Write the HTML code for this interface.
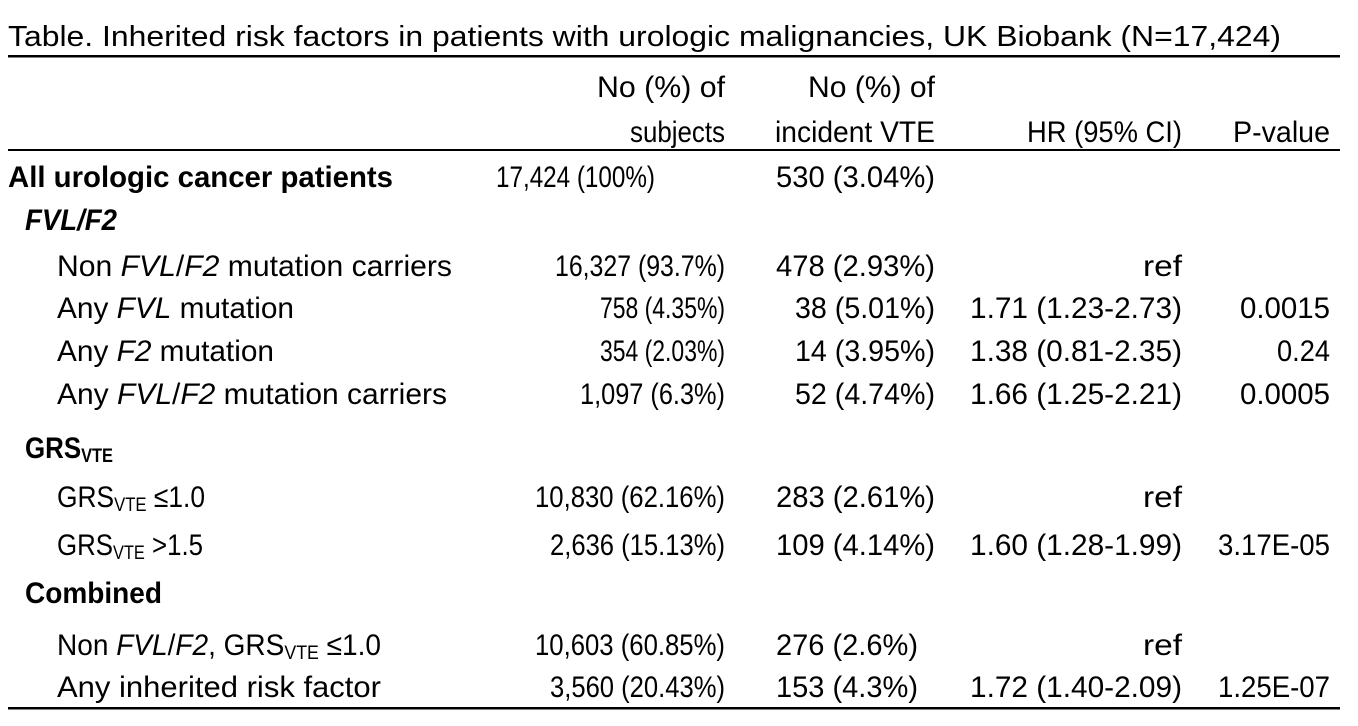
<!DOCTYPE html>
<html><head><meta charset="utf-8"><style>
html,body{margin:0;padding:0;background:#fff;}
svg{display:block;}
text{font-family:"Liberation Sans",sans-serif;font-size:30px;fill:#000;}
.t{font-size:29px;}
.b{font-weight:bold;}
.i{font-style:italic;}
</style></head><body>
<svg width="1358" height="726" viewBox="0 0 1358 726">
<text class="t" x="8" y="46" textLength="1273" lengthAdjust="spacingAndGlyphs">Table. Inherited risk factors in patients with urologic malignancies, UK Biobank (N=17,424)</text>
<rect x="8" y="55" width="1332" height="2.5"/>
<text x="725" y="97" text-anchor="end" textLength="128" lengthAdjust="spacingAndGlyphs">No (%) of</text>
<text x="725" y="142" text-anchor="end" textLength="95" lengthAdjust="spacingAndGlyphs">subjects</text>
<text x="935" y="97" text-anchor="end" textLength="127" lengthAdjust="spacingAndGlyphs">No (%) of</text>
<text x="935" y="142" text-anchor="end" textLength="160" lengthAdjust="spacingAndGlyphs">incident VTE</text>
<text x="1182" y="142" text-anchor="end" textLength="155" lengthAdjust="spacingAndGlyphs">HR (95% CI)</text>
<text x="1330" y="142" text-anchor="end" textLength="97" lengthAdjust="spacingAndGlyphs">P-value</text>
<rect x="8" y="149" width="1332" height="2"/>

<text class="b" x="8" y="187" textLength="385" lengthAdjust="spacingAndGlyphs">All urologic cancer patients</text>
<text x="496" y="187" textLength="159" lengthAdjust="spacingAndGlyphs">17,424 (100%)</text>
<text x="776" y="187" textLength="159" lengthAdjust="spacingAndGlyphs">530 (3.04%)</text>

<text class="b i" x="25" y="230" textLength="92" lengthAdjust="spacingAndGlyphs">FVL/F2</text>

<text x="57" y="276" textLength="395" lengthAdjust="spacingAndGlyphs">Non <tspan class="i">FVL</tspan>/<tspan class="i">F2</tspan> mutation carriers</text>
<text x="725" y="276" text-anchor="end" textLength="170" lengthAdjust="spacingAndGlyphs">16,327 (93.7%)</text>
<text x="935" y="276" text-anchor="end" textLength="159" lengthAdjust="spacingAndGlyphs">478 (2.93%)</text>
<text x="1182" y="276" text-anchor="end" textLength="39" lengthAdjust="spacingAndGlyphs">ref</text>

<text x="57" y="318" textLength="237" lengthAdjust="spacingAndGlyphs">Any <tspan class="i">FVL</tspan> mutation</text>
<text x="725" y="318" text-anchor="end" textLength="125" lengthAdjust="spacingAndGlyphs">758 (4.35%)</text>
<text x="935" y="318" text-anchor="end" textLength="140" lengthAdjust="spacingAndGlyphs">38 (5.01%)</text>
<text x="1182" y="318" text-anchor="end" textLength="212" lengthAdjust="spacingAndGlyphs">1.71 (1.23-2.73)</text>
<text x="1330" y="318" text-anchor="end" textLength="90" lengthAdjust="spacingAndGlyphs">0.0015</text>

<text x="57" y="361" textLength="217" lengthAdjust="spacingAndGlyphs">Any <tspan class="i">F2</tspan> mutation</text>
<text x="725" y="361" text-anchor="end" textLength="125" lengthAdjust="spacingAndGlyphs">354 (2.03%)</text>
<text x="935" y="361" text-anchor="end" textLength="140" lengthAdjust="spacingAndGlyphs">14 (3.95%)</text>
<text x="1182" y="361" text-anchor="end" textLength="212" lengthAdjust="spacingAndGlyphs">1.38 (0.81-2.35)</text>
<text x="1330" y="361" text-anchor="end" textLength="53" lengthAdjust="spacingAndGlyphs">0.24</text>

<text x="57" y="404" textLength="390" lengthAdjust="spacingAndGlyphs">Any <tspan class="i">FVL</tspan>/<tspan class="i">F2</tspan> mutation carriers</text>
<text x="725" y="404" text-anchor="end" textLength="145" lengthAdjust="spacingAndGlyphs">1,097 (6.3%)</text>
<text x="935" y="404" text-anchor="end" textLength="140" lengthAdjust="spacingAndGlyphs">52 (4.74%)</text>
<text x="1182" y="404" text-anchor="end" textLength="212" lengthAdjust="spacingAndGlyphs">1.66 (1.25-2.21)</text>
<text x="1330" y="404" text-anchor="end" textLength="90" lengthAdjust="spacingAndGlyphs">0.0005</text>

<text class="b" x="25" y="458" textLength="88" lengthAdjust="spacingAndGlyphs">GRS<tspan font-size="19" dy="4">VTE</tspan></text>

<text x="57" y="507" textLength="148" lengthAdjust="spacingAndGlyphs">GRS<tspan font-size="19" dy="4">VTE</tspan><tspan dy="-4"> ≤1.0</tspan></text>
<text x="725" y="507" text-anchor="end" textLength="190" lengthAdjust="spacingAndGlyphs">10,830 (62.16%)</text>
<text x="935" y="507" text-anchor="end" textLength="159" lengthAdjust="spacingAndGlyphs">283 (2.61%)</text>
<text x="1182" y="507" text-anchor="end" textLength="39" lengthAdjust="spacingAndGlyphs">ref</text>

<text x="57" y="555" textLength="146" lengthAdjust="spacingAndGlyphs">GRS<tspan font-size="19" dy="4">VTE</tspan><tspan dy="-4"> &gt;1.5</tspan></text>
<text x="725" y="555" text-anchor="end" textLength="175" lengthAdjust="spacingAndGlyphs">2,636 (15.13%)</text>
<text x="935" y="555" text-anchor="end" textLength="159" lengthAdjust="spacingAndGlyphs">109 (4.14%)</text>
<text x="1182" y="555" text-anchor="end" textLength="212" lengthAdjust="spacingAndGlyphs">1.60 (1.28-1.99)</text>
<text x="1330" y="555" text-anchor="end" textLength="112" lengthAdjust="spacingAndGlyphs">3.17E-05</text>

<text class="b" x="25" y="603" textLength="137" lengthAdjust="spacingAndGlyphs">Combined</text>

<text x="57" y="655" textLength="324" lengthAdjust="spacingAndGlyphs">Non <tspan class="i">FVL</tspan>/<tspan class="i">F2</tspan>, GRS<tspan font-size="19" dy="4">VTE</tspan><tspan dy="-4"> ≤1.0</tspan></text>
<text x="725" y="655" text-anchor="end" textLength="190" lengthAdjust="spacingAndGlyphs">10,603 (60.85%)</text>
<text x="776" y="655" textLength="142" lengthAdjust="spacingAndGlyphs">276 (2.6%)</text>
<text x="1182" y="655" text-anchor="end" textLength="39" lengthAdjust="spacingAndGlyphs">ref</text>

<text x="57" y="697" textLength="324" lengthAdjust="spacingAndGlyphs">Any inherited risk factor</text>
<text x="725" y="697" text-anchor="end" textLength="175" lengthAdjust="spacingAndGlyphs">3,560 (20.43%)</text>
<text x="776" y="697" textLength="142" lengthAdjust="spacingAndGlyphs">153 (4.3%)</text>
<text x="1182" y="697" text-anchor="end" textLength="212" lengthAdjust="spacingAndGlyphs">1.72 (1.40-2.09)</text>
<text x="1330" y="697" text-anchor="end" textLength="112" lengthAdjust="spacingAndGlyphs">1.25E-07</text>

<rect x="8" y="707" width="1332" height="2.5"/>
</svg>
</body></html>
